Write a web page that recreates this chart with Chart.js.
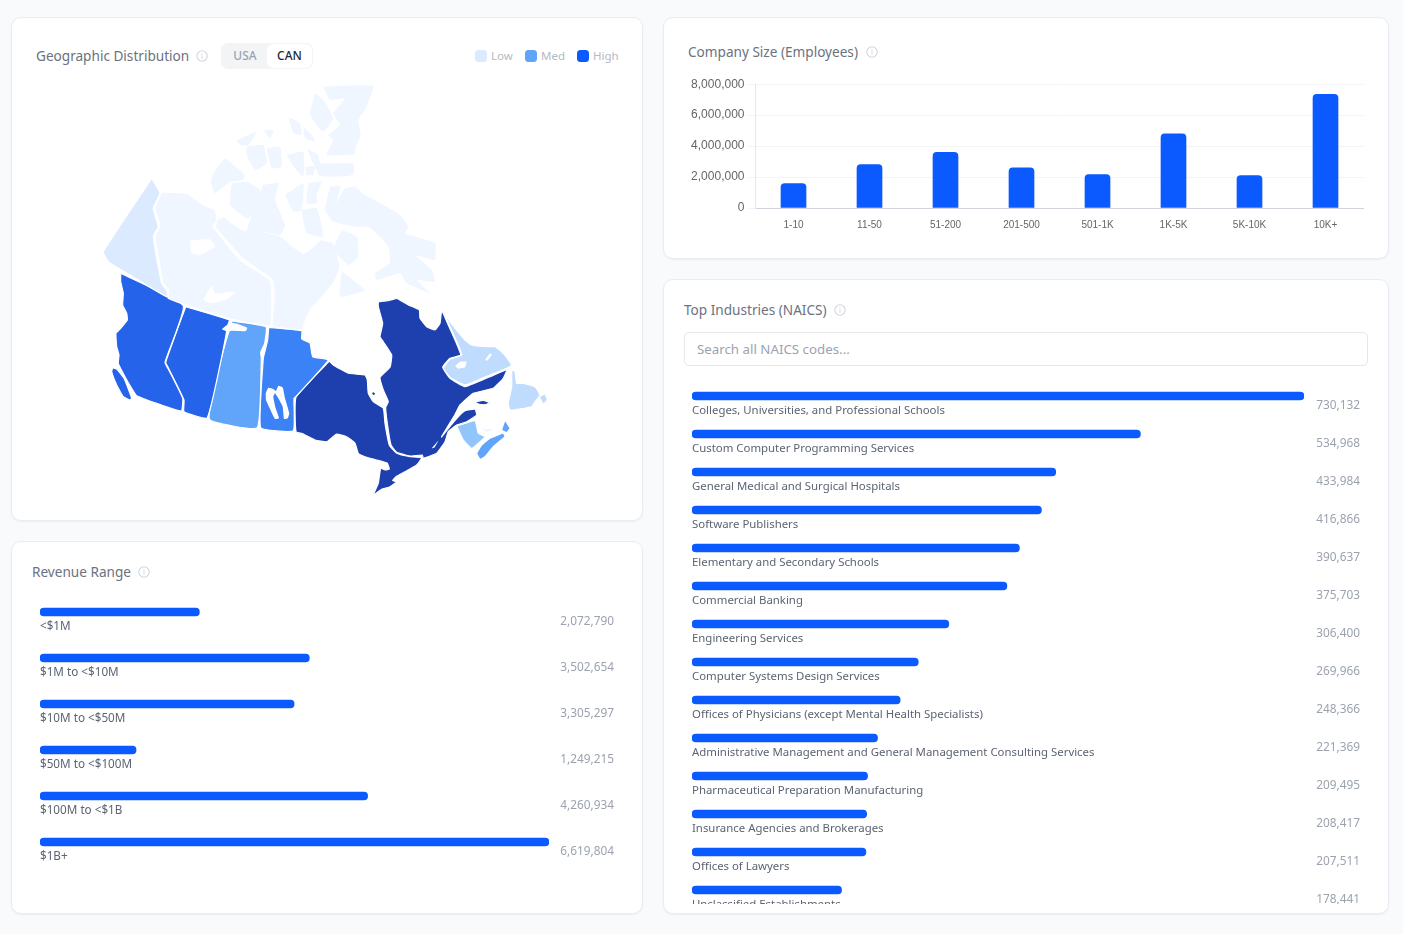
<!DOCTYPE html>
<html lang="en">
<head>
<meta charset="utf-8">
<title>Company Dashboard</title>
<script src="https://cdn.jsdelivr.net/npm/chart.js@4/dist/chart.umd.min.js"></script>
<style>
  html, body { margin: 0; padding: 0; background: #f8fafc; }
  body { width: 1403px; height: 934px; position: relative; overflow: hidden; font-family: "Noto Sans", sans-serif; }
  .card { position: absolute; box-sizing: border-box; background: #fff; border: 1px solid #e9edf2; border-radius: 10px; box-shadow: 0 1px 2px rgba(15,23,42,.05); }
  .title { position: absolute; font-size: 13.6px; line-height: 20px; color: #6b7280; white-space: nowrap; }
  .info { position: absolute; width: 12px; height: 12px; }
  .abs { position: absolute; }
  .toggle { left: 221px; top: 43px; width: 92px; height: 26px; background: #f3f4f6; border-radius: 7px; }
  .toggle span { position: absolute; top: 1px; height: 24px; line-height: 24px; font-size: 12px; font-weight: 500; text-align: center; }
  .legend-dot { position: absolute; top: 50px; width: 12px; height: 12px; border-radius: 3.5px; }
  .legend-text { position: absolute; top: 48px; font-size: 11.5px; line-height: 16px; color: #b4bac4; }
  .search { left: 684px; top: 332px; width: 684px; height: 34px; box-sizing: border-box; border: 1px solid #e5e7eb; border-radius: 5px; padding-left: 12px; font-size: 13.3px; line-height: 32px; color: #9ca3af; }
  canvas { display: block; }
</style>
</head>
<body>
<svg width="0" height="0" style="position:absolute">
  <symbol id="info" viewBox="0 0 12 12">
    <circle cx="6" cy="6" r="5.2" fill="none" stroke="#d1d5db" stroke-width="1.1"/>
    <rect x="5.5" y="5.2" width="1" height="3.4" fill="#d1d5db"/>
    <rect x="5.5" y="3.4" width="1" height="1" fill="#d1d5db"/>
  </symbol>
</svg>

<div class="card" style="left:11px;top:17px;width:632px;height:504px"></div>
<div class="card" style="left:11px;top:541px;width:632px;height:373px"></div>
<div class="card" style="left:663px;top:17px;width:726px;height:242px"></div>
<div class="card" style="left:663px;top:279px;width:726px;height:635px"></div>

<div class="title" style="left:36px;top:46px">Geographic Distribution</div>
<svg class="info" style="left:196px;top:50px"><use href="#info"/></svg>
<div class="abs toggle">
  <span style="left:1px;width:46px;color:#9ca3af">USA</span>
  <span style="left:46px;width:45px;background:#fff;border-radius:6px;color:#1f2937">CAN</span>
</div>
<div class="legend-dot" style="left:475px;background:#dbeafe"></div><div class="legend-text" style="left:491px">Low</div>
<div class="legend-dot" style="left:525px;background:#60a5fa"></div><div class="legend-text" style="left:541px">Med</div>
<div class="legend-dot" style="left:577px;background:#0b5aff"></div><div class="legend-text" style="left:593px">High</div>

<div class="title" style="left:688px;top:42px">Company Size (Employees)</div>
<svg class="info" style="left:866px;top:46px"><use href="#info"/></svg>

<div class="title" style="left:684px;top:300px">Top Industries (NAICS)</div>
<svg class="info" style="left:834px;top:304px"><use href="#info"/></svg>
<div class="abs search">Search all NAICS codes...</div>

<div class="title" style="left:32px;top:562px">Revenue Range</div>
<svg class="info" style="left:138px;top:566px"><use href="#info"/></svg>

<div class="abs" style="left:90px;top:80px;width:470px;height:420px"><canvas id="mapChart"></canvas></div>
<div class="abs" style="left:688px;top:74px;width:677px;height:158px"><canvas id="sizeChart"></canvas></div>
<div class="abs" style="left:12px;top:589px;width:628px;height:276px"><canvas id="revenueChart"></canvas></div>
<div class="abs" style="left:664px;top:377px;width:724px;height:527px;overflow:hidden"><div style="width:724px;height:532px"><canvas id="naicsChart"></canvas></div></div>

<script>
// ---------- Company size ----------
const sizeLabels = ['1-10', '11-50', '51-200', '201-500', '501-1K', '1K-5K', '5K-10K', '10K+'];
const sizeValues = [1580000, 2800000, 3600000, 2600000, 2160000, 4800000, 2100000, 7350000];

// ---------- Revenue range ----------
const revenueLabels = ['<$1M', '$1M to <$10M', '$10M to <$50M', '$50M to <$100M', '$100M to <$1B', '$1B+'];
const revenueValues = [2072790, 3502654, 3305297, 1249215, 4260934, 6619804];

// ---------- NAICS industries ----------
const naicsLabels = [
  'Colleges, Universities, and Professional Schools',
  'Custom Computer Programming Services',
  'General Medical and Surgical Hospitals',
  'Software Publishers',
  'Elementary and Secondary Schools',
  'Commercial Banking',
  'Engineering Services',
  'Computer Systems Design Services',
  'Offices of Physicians (except Mental Health Specialists)',
  'Administrative Management and General Management Consulting Services',
  'Pharmaceutical Preparation Manufacturing',
  'Insurance Agencies and Brokerages',
  'Offices of Lawyers',
  'Unclassified Establishments'
];
const naicsValues = [730132, 534968, 433984, 416866, 390637, 375703, 306400, 269966, 248366, 221369, 209495, 208417, 207511, 178441];

// ---------- Province and territory outlines, in map units ----------
const yukon = [[151.7,178.3],[160,193.3],[153.3,208.3],[158.3,226.7],[153.3,236.7],[158.3,266.7],[161.7,283.3],[167.3,291.7],[167,297],[113,265],[108.3,261.7],[103.3,251.7]];
const northwest = [[161.7,192],[186.7,193.3],[203.3,205],[215,210],[216.7,220],[213.3,226.7],[240,260],[270,280],[271.7,300],[270.3,325.3],[231,319],[183,304],[168,298],[169,291],[163,283],[160,266],[155,236],[160,226],[155,208]];
const nunavutMain = [[216.7,220],[223.3,216.7],[236.7,226.7],[243.3,230],[263.3,231.7],[281.7,236.7],[293.3,246.7],[303.3,253.3],[313.3,246.7],[320,240],[333,243],[340,266.7],[335,280],[323,296],[310,310],[303,327],[301.7,330],[272.5,326],[274,300],[272.5,280],[242,258],[215.5,227]];
const banksIsland = [[225,158.3],[245,175],[243.3,180],[230,181.7],[215,193.3],[210.7,181.7],[215,170]];
const victoriaIsland = [[231.7,183.3],[246.7,181.7],[260,190],[255,213.3],[246.7,218.3],[230,205]];
const princeOfWales = [[263.3,185],[278.3,183.3],[275,200],[285,225],[280,235],[263.3,231.7],[246.7,231.7]];
const melvilleIsland = [[236.7,140],[256.7,131.7],[248.3,145],[240,145]];
const bathurstIsland = [[246.7,146.7],[263.3,145],[266.7,163.3],[255,170],[246.7,155]];
const cornwallisIsland = [[266.7,148.3],[280,146.7],[281.7,166.7],[271.7,168.3]];
const ellefRingnes = [[263.3,130],[273.3,130],[270,138.3]];
const amundRingnes = [[288.3,116.7],[300,123.3],[301.7,135],[293.3,133.3]];
const devonWest = [[286.7,155],[303.3,151.7],[303.3,176.7],[295,168.3]];
const grahamIsland = [[303.3,126.7],[311.7,135],[315,141.7],[305,138.3]];
const northKent = [[305,166.7],[315,166.7],[313.3,175],[306.7,175]];
const somerset = [[285,195],[303.3,183.3],[301.7,210],[293.3,211.7]];
const boothia = [[308.3,183.3],[321.7,181.7],[316.7,195],[316.7,203.3],[306.7,203.3]];
const boothiaSouth = [[301.7,210],[316.7,208.3],[323.3,236.7],[306.7,233.3],[303.3,220]];
const devonIsland = [[306.7,148.3],[318.3,155],[320,163.3],[336.7,163.3],[353.3,163.3],[353.3,175],[320,176]];
const ellesmere = [[323.3,86.7],[373.3,86],[365,110],[358.3,120],[360.7,135],[355,148.3],[355,154],[326.7,155],[333.3,140],[328.3,135],[340,125],[333.3,113.3],[345,98.3],[330,100]];
const axelHeiberg = [[315,93.3],[323.3,100],[333.3,118.3],[323.3,131.7],[315,123.3],[310,113.3]];
const baffin = [[330,186.7],[340,186.7],[336.7,203.3],[345,188.3],[355,186.7],[365,195],[380,203.3],[400,215],[408.3,226.7],[405,233.3],[435,243.3],[435,260],[415,255],[431.7,270],[435,281.7],[416.7,280],[430,293.3],[406.7,283.3],[400,273.3],[376.7,280],[375,273.3],[390,263.3],[388.3,246.7],[380,236.7],[368.3,226.7],[356.7,226.7],[333.3,221.7],[325,210]];
const melvillePeninsula = [[341.7,230],[356.7,236.7],[358.3,256.7],[348.3,265],[333.3,250]];
const southampton = [[341.7,271.7],[365,290],[340,296.7]];
const britishColumbia = [[120.7,273.3],[183.3,305.7],[165,362.3],[168.3,369],[182.7,398.3],[181.3,411],[156.7,403.3],[136.7,395.7],[131.7,388.3],[125,376.7],[118.3,363.3],[119,355],[116.7,346.7],[116,333.3],[120.7,328.3],[127.3,320],[126.7,313.3],[122.7,305],[123.3,293.3],[120.7,281.7]];
const vancouverIsland = [[112.7,367.7],[116.7,369],[124,378.3],[131.7,398.3],[130,400],[123.3,396.7],[116.7,385],[111.7,371.7]];
const alberta = [[185.7,306.7],[229.3,320],[227.7,325],[222.7,329],[226.7,331],[207.3,417.7],[184,411.7],[184,400],[168.3,367.7],[165.7,362.3]];
const saskatchewan = [[231.7,321],[266,326.7],[264.7,343.3],[260.7,352.3],[261.3,358.3],[257.3,427.7],[209.3,419],[229.3,330.7],[245,330.7],[246.7,328.3],[236.7,324.3],[231.7,323.3]];
const manitoba = [[268.7,327.3],[301.7,330.7],[301.7,339],[310,343.3],[312.7,356.7],[328.3,360],[296.7,395.7],[294,398.3],[293.3,430.7],[260.7,427.7],[263.3,358.3],[265.7,348.3],[267.7,340]];
const ontario = [[329.3,361],[333.3,365],[348.3,373.3],[365,375],[367.3,380],[368.3,393.3],[373.3,401.7],[383.3,408.3],[385,423.3],[389.3,445],[396.7,453.3],[410,456.7],[421.7,457.7],[416.7,465],[405,471.7],[396,476.7],[392.7,480.7],[396.7,481.7],[390,486.7],[381.7,489.3],[373.3,495],[378.3,483.3],[380.7,468.3],[385,470],[389.3,469],[387.3,463.3],[376.7,460],[365,456.7],[358.3,453.3],[355,443.3],[346.7,436.7],[336.7,434],[326.7,441.7],[315,440],[303.3,434],[296,431.7],[296,397.3]];
const akimiski = [[371,392.7],[374,391.7],[376,394.3],[373.3,395.7]];
const quebec = [[378.3,301.7],[388.3,300.7],[396.7,298.3],[408.3,305],[419.3,310],[420,318.3],[426.7,326.7],[435,330],[440,323.3],[441.7,310.7],[448.3,325],[455,340],[460.7,355],[450,358.3],[442.7,367.3],[450,378.3],[465,386.7],[490,376.7],[506.7,370],[503.3,378.3],[493.3,388.3],[473.3,393.3],[460,405],[455,414.5],[441.5,437],[449,427.5],[457.5,417.5],[465,410.7],[475,409.3],[476.7,415],[466.7,421.7],[456.7,425],[448.3,431.7],[445,441.7],[436.7,453.3],[423.3,458.3],[422.3,455],[410,456],[396.7,452.3],[391,445],[387.3,423.3],[385.7,407.3],[388.3,401.7],[383.3,390],[380,377.3],[390,367.3],[391.7,355],[383.3,341.7],[380,336.7],[382.7,323.3],[378.3,306.7]];
const anticosti = [[475,401.7],[483.3,400.3],[490,402.7],[485,404.7],[478.3,404]];
const labrador = [[442.7,310],[450,321.7],[465,340],[471.7,345],[485,346.7],[495,346.7],[503.3,353.3],[511.7,365],[506.7,368.3],[490,375],[465,385],[450,377.3],[443.3,368.3],[450,359.3],[461.7,355],[456,340],[449.3,325]];
const newfoundland = [[511.7,370],[515,371.7],[516.7,383.3],[523.3,383.3],[535,386.7],[540,395],[535,401.7],[531.7,406.7],[510,410],[508.3,403.3],[511.7,386.7]];
const avalonIslet = [[539.3,396.7],[545,394],[547.3,400],[543.3,404]];
const newBrunswick = [[456.7,426],[475,420.7],[478.3,433.3],[485,436.7],[471.7,448.3],[463.3,440]];
const novaScotia = [[503.3,432.7],[505,436.7],[493.3,446.7],[485,456.7],[480,459.3],[476.7,453.3],[481.7,445],[490,438.3]];
const capeBreton = [[505,420],[510,428.3],[506.7,432.7],[501.7,430]];
const princeEdward = [[481.7,428.3],[493.3,430],[487,432]];

// ---------- Inland water and channels ----------
const greatBearLake = [[190,240],[210,239.3],[215,246.7],[200,255],[191.7,253.3]];
const greatSlaveLake = [[211.7,285],[215,293.3],[235,291.7],[228.3,298.3],[213.3,303.3],[203.3,300]];
const manitobaLakes = [[265.7,393.3],[268.3,387.7],[273.3,389],[276,391],[278.3,385.7],[282.7,387.3],[285,398.3],[289.3,413.3],[287.7,418.3],[284,419],[282.7,406.7],[278.3,398.3],[275,393.3],[273.3,396.7],[275.7,408.3],[279,418.3],[275,419],[270,409],[266,400]];
const smallwoodReservoir = [[455,366],[460,361.7],[466.7,361.7],[465,367.3],[458.3,368.7]];
const labradorInlet = [[485,360],[490,353.3],[491.7,355],[487.3,360.7]];
const stLawrenceLower = [[431.7,448.3],[438.3,440.7],[434.5,447.5]];

const regionGroups = [
  { color: '#ffffff', line: 0, outlines: [greatBearLake, greatSlaveLake, manitobaLakes, smallwoodReservoir, labradorInlet, stLawrenceLower] },
  { color: '#eff6ff', line: 0, outlines: [banksIsland, victoriaIsland, princeOfWales, melvilleIsland, bathurstIsland, cornwallisIsland, ellefRingnes, amundRingnes, devonWest, grahamIsland, northKent, somerset, boothia, boothiaSouth, devonIsland, ellesmere, axelHeiberg, baffin, melvillePeninsula, southampton, princeEdward] },
  { color: '#eff6ff', line: 1.2, outlines: [northwest, nunavutMain] },
  { color: '#dbeafe', line: 1.2, outlines: [yukon] },
  { color: '#2563eb', line: 1.2, outlines: [britishColumbia, vancouverIsland, alberta] },
  { color: '#60a5fa', line: 1.2, outlines: [saskatchewan, novaScotia, capeBreton] },
  { color: '#3b82f6', line: 1.2, outlines: [manitoba] },
  { color: '#1e40af', line: 1.2, outlines: [ontario, quebec, akimiski, anticosti] },
  { color: '#bfdbfe', line: 1.2, outlines: [labrador, newfoundland, avalonIslet] },
  { color: '#93c5fd', line: 1.2, outlines: [newBrunswick] }
];

const mapDatasets = [];
regionGroups.forEach(group => {
  group.outlines.forEach(outline => {
    const closed = outline.concat([outline[0]]);
    mapDatasets.push({
      type: 'scatter',
      showLine: true,
      data: closed.map(p => ({ x: p[0], y: p[1] })),
      borderColor: '#ffffff',
      borderWidth: group.line,
      backgroundColor: group.color,
      fill: 'shape',
      tension: 0.12,
      pointRadius: 0,
      pointHoverRadius: 0
    });
  });
});

const quiet = { legend: { display: false }, tooltip: { enabled: false } };

new Chart(document.getElementById('mapChart'), {
  type: 'scatter',
  data: { datasets: mapDatasets },
  options: {
    responsive: true, maintainAspectRatio: false, animation: false,
    layout: { padding: 0 },
    plugins: quiet,
    scales: {
      x: { type: 'linear', display: false, min: 90, max: 560 },
      y: { type: 'linear', display: false, min: 80, max: 500, reverse: true }
    }
  }
});

new Chart(document.getElementById('sizeChart'), {
  type: 'bar',
  data: {
    labels: sizeLabels,
    datasets: [{
      data: sizeValues,
      backgroundColor: '#0b5aff',
      barThickness: 25,
      borderRadius: { topLeft: 4, topRight: 4, bottomLeft: 0, bottomRight: 0 },
      borderSkipped: 'bottom'
    }]
  },
  options: {
    responsive: true, maintainAspectRatio: false, animation: false,
    layout: { padding: { top: 0, right: 1.5, left: 0, bottom: 0 } },
    plugins: quiet,
    scales: {
      x: {
        grid: { display: false },
        border: { color: '#d1d5db' },
        ticks: { color: '#666', font: { family: '"Liberation Sans"', size: 10 }, maxRotation: 0 },
        afterFit: s => { s.height = 24; }
      },
      y: {
        min: 0, max: 8000000,
        grid: { color: '#f3f4f6' },
        border: { color: '#e5e7eb' },
        ticks: { stepSize: 2000000, color: '#666', font: { family: '"Liberation Sans"', size: 12 }, callback: v => v.toLocaleString('en-US') },
        afterFit: s => { s.width = 67.5; }
      }
    }
  }
});

// Row captions under each bar and the value at the far right of the row.
const rowText = {
  id: 'rowText',
  afterDatasetsDraw(chart, args, opts) {
    const { ctx, chartArea, scales } = chart;
    const labels = chart.data.labels;
    const values = chart.data.datasets[0].data;
    ctx.save();
    ctx.textBaseline = 'middle';
    labels.forEach((label, i) => {
      const y = scales.y.getPixelForValue(i);
      ctx.font = opts.captionFont;
      ctx.fillStyle = '#5b6472';
      ctx.textAlign = 'left';
      ctx.fillText(label, chartArea.left, y + 15);
      ctx.font = opts.valueFont;
      ctx.fillStyle = '#9ca3af';
      ctx.textAlign = 'right';
      ctx.fillText(values[i].toLocaleString('en-US'), chartArea.right + opts.valueGap, y + opts.valueOffset);
    });
    ctx.restore();
  }
};

function rowChart(id, labels, values, padding, captionSize, valueGap, valueOffset) {
  return new Chart(document.getElementById(id), {
    type: 'bar',
    plugins: [rowText],
    data: {
      labels,
      datasets: [{
        data: values,
        backgroundColor: '#0b5aff',
        barThickness: 8,
        borderRadius: 4,
        borderSkipped: false
      }]
    },
    options: {
      indexAxis: 'y',
      responsive: true, maintainAspectRatio: false, animation: false,
      layout: { padding },
      plugins: Object.assign({}, quiet, {
        rowText: { captionFont: captionSize + 'px "Noto Sans"', valueFont: '11.85px "Noto Sans"', valueGap, valueOffset }
      }),
      scales: {
        x: { display: false, min: 0, max: Math.max(...values) },
        y: { display: false }
      }
    }
  });
}

rowChart('revenueChart', revenueLabels, revenueValues, { left: 28, right: 91, top: 0, bottom: 0 }, 11.7, 65, 9.5);
rowChart('naicsChart', naicsLabels, naicsValues, { left: 28, right: 84, top: 0, bottom: 0 }, 11.4, 56, 10);
</script>
</body>
</html>
